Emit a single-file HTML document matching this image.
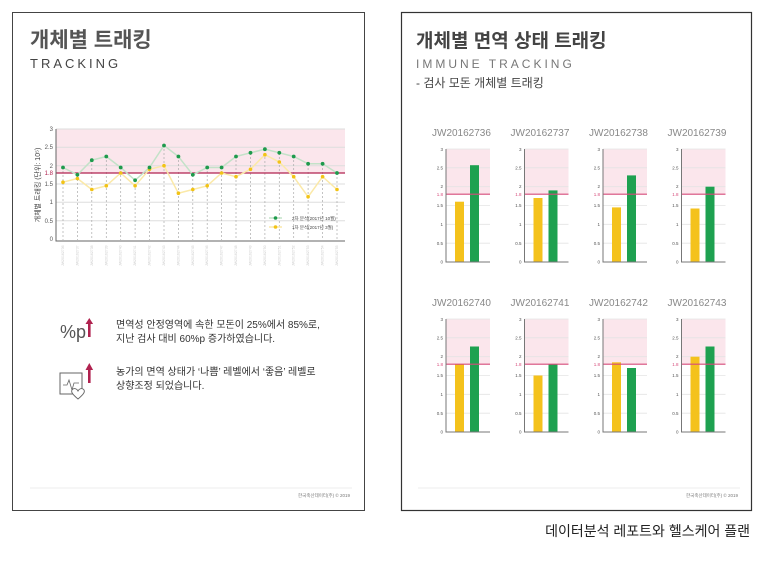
<!DOCTYPE html>
<html><head><meta charset="utf-8"><style>
body{margin:0;background:#fff;width:779px;height:559px;overflow:hidden;font-family:"Liberation Sans","Noto Sans CJK KR",sans-serif}
</style></head><body>
<svg width="779" height="559" viewBox="0 0 779 559" xmlns="http://www.w3.org/2000/svg" font-family="Liberation Sans, Noto Sans CJK KR, sans-serif">
<rect x="12.5" y="12.5" width="352" height="498" fill="#fff" stroke="#444" stroke-width="1"/>
<rect x="401.5" y="12.5" width="350" height="498" fill="#fff" stroke="#333" stroke-width="1.2"/>
<text x="30" y="47" font-size="21" font-weight="bold" fill="#555">개체별 트래킹</text>
<text x="30" y="68" font-size="13" fill="#444" letter-spacing="3">TRACKING</text>
<text x="416" y="47" font-size="19" font-weight="bold" fill="#444">개체별 면역 상태 트래킹</text>
<text x="416" y="68" font-size="12" fill="#777" letter-spacing="3">IMMUNE TRACKING</text>
<text x="416" y="87" font-size="12" fill="#444">- 검사 모돈 개체별 트래킹</text>

<!-- main chart -->
<rect x="56" y="129" width="289" height="44" fill="#fbe6ec"/>
<g stroke="#ddd" stroke-width="1"><line x1="56" x2="345" y1="129" y2="129"/><line x1="56" x2="345" y1="147.3" y2="147.3"/><line x1="56" x2="345" y1="165.7" y2="165.7"/><line x1="56" x2="345" y1="184" y2="184"/><line x1="56" x2="345" y1="202.3" y2="202.3"/><line x1="56" x2="345" y1="220.7" y2="220.7"/></g>
<g stroke="#aaa" stroke-dasharray="2,2" stroke-width="0.7">
<line x1="63" x2="63" y1="167" y2="240"/><line x1="77.4" x2="77.4" y1="175" y2="240"/><line x1="91.8" x2="91.8" y1="160" y2="240"/><line x1="106.3" x2="106.3" y1="156" y2="240"/><line x1="120.7" x2="120.7" y1="167" y2="240"/><line x1="135.1" x2="135.1" y1="180" y2="240"/><line x1="149.5" x2="149.5" y1="167" y2="240"/><line x1="164" x2="164" y1="145" y2="240"/><line x1="178.4" x2="178.4" y1="156" y2="240"/><line x1="192.8" x2="192.8" y1="175" y2="240"/><line x1="207.2" x2="207.2" y1="167" y2="240"/><line x1="221.6" x2="221.6" y1="167" y2="240"/><line x1="236" x2="236" y1="156" y2="240"/><line x1="250.5" x2="250.5" y1="153" y2="240"/><line x1="264.9" x2="264.9" y1="149" y2="240"/><line x1="279.3" x2="279.3" y1="153" y2="240"/><line x1="293.7" x2="293.7" y1="156" y2="240"/><line x1="308.1" x2="308.1" y1="164" y2="240"/><line x1="322.6" x2="322.6" y1="164" y2="240"/><line x1="337" x2="337" y1="173" y2="240"/></g>
<line x1="56" x2="345" y1="173" y2="173" stroke="#b0224f" stroke-width="1.3"/>
<polyline fill="none" stroke="#fbe9a8" stroke-width="1.5" points="63,182.2 77.4,178.5 91.8,189.5 106.3,185.8 120.7,173 135.1,185.8 149.5,169.3 164,165.7 178.4,193.2 192.8,189.5 207.2,185.8 221.6,173 236,176.7 250.5,169.3 264.9,154.7 279.3,162 293.7,176.7 308.1,196.8 322.6,176.7 337,189.5"/>
<polyline fill="none" stroke="#c3e2c8" stroke-width="1.5" points="63,167.5 77.4,174.8 91.8,160.2 106.3,156.5 120.7,167.5 135.1,180.3 149.5,167.5 164,145.5 178.4,156.5 192.8,174.8 207.2,167.5 221.6,167.5 236,156.5 250.5,152.8 264.9,149.2 279.3,152.8 293.7,156.5 308.1,163.8 322.6,163.8 337,173"/>
<g fill="#f2c316"><circle cx="63" cy="182.2" r="1.8"/><circle cx="77.4" cy="178.5" r="1.8"/><circle cx="91.8" cy="189.5" r="1.8"/><circle cx="106.3" cy="185.8" r="1.8"/><circle cx="120.7" cy="173" r="1.8"/><circle cx="135.1" cy="185.8" r="1.8"/><circle cx="149.5" cy="169.3" r="1.8"/><circle cx="164" cy="165.7" r="1.8"/><circle cx="178.4" cy="193.2" r="1.8"/><circle cx="192.8" cy="189.5" r="1.8"/><circle cx="207.2" cy="185.8" r="1.8"/><circle cx="221.6" cy="173" r="1.8"/><circle cx="236" cy="176.7" r="1.8"/><circle cx="250.5" cy="169.3" r="1.8"/><circle cx="264.9" cy="154.7" r="1.8"/><circle cx="279.3" cy="162" r="1.8"/><circle cx="293.7" cy="176.7" r="1.8"/><circle cx="308.1" cy="196.8" r="1.8"/><circle cx="322.6" cy="176.7" r="1.8"/><circle cx="337" cy="189.5" r="1.8"/></g>
<g fill="#1e9a4c"><circle cx="63" cy="167.5" r="1.9"/><circle cx="77.4" cy="174.8" r="1.9"/><circle cx="91.8" cy="160.2" r="1.9"/><circle cx="106.3" cy="156.5" r="1.9"/><circle cx="120.7" cy="167.5" r="1.9"/><circle cx="135.1" cy="180.3" r="1.9"/><circle cx="149.5" cy="167.5" r="1.9"/><circle cx="164" cy="145.5" r="1.9"/><circle cx="178.4" cy="156.5" r="1.9"/><circle cx="192.8" cy="174.8" r="1.9"/><circle cx="207.2" cy="167.5" r="1.9"/><circle cx="221.6" cy="167.5" r="1.9"/><circle cx="236" cy="156.5" r="1.9"/><circle cx="250.5" cy="152.8" r="1.9"/><circle cx="264.9" cy="149.2" r="1.9"/><circle cx="279.3" cy="152.8" r="1.9"/><circle cx="293.7" cy="156.5" r="1.9"/><circle cx="308.1" cy="163.8" r="1.9"/><circle cx="322.6" cy="163.8" r="1.9"/><circle cx="337" cy="173" r="1.9"/></g>
<polyline fill="none" stroke="#666" stroke-width="1" points="56,129 56,241 345,241"/>
<g font-size="6" fill="#555" text-anchor="end"><text x="53" y="131">3</text><text x="53" y="149">2.5</text><text x="53" y="168">2</text><text x="53" y="186">1.5</text><text x="53" y="204">1</text><text x="53" y="223">0.5</text><text x="53" y="241">0</text></g>
<text x="53" y="175" font-size="6" fill="#b0224f" text-anchor="end">1.8</text>
<text transform="translate(40,185) rotate(-90)" font-size="7" fill="#444" text-anchor="middle">개체별 트래킹 (단위: 10⁵)</text>
<g font-size="3.5" fill="#ccc"><text transform="translate(64,266) rotate(-90)">JW20162736</text><text transform="translate(78.4,266) rotate(-90)">JW20162737</text><text transform="translate(92.8,266) rotate(-90)">JW20162738</text><text transform="translate(107.3,266) rotate(-90)">JW20162739</text><text transform="translate(121.7,266) rotate(-90)">JW20162740</text><text transform="translate(136.1,266) rotate(-90)">JW20162741</text><text transform="translate(150.5,266) rotate(-90)">JW20162742</text><text transform="translate(165,266) rotate(-90)">JW20162743</text><text transform="translate(179.4,266) rotate(-90)">JW20162744</text><text transform="translate(193.8,266) rotate(-90)">JW20162745</text><text transform="translate(208.2,266) rotate(-90)">JW20162746</text><text transform="translate(222.6,266) rotate(-90)">JW20162747</text><text transform="translate(237,266) rotate(-90)">JW20162748</text><text transform="translate(251.5,266) rotate(-90)">JW20162749</text><text transform="translate(265.9,266) rotate(-90)">JW20162750</text><text transform="translate(280.3,266) rotate(-90)">JW20162751</text><text transform="translate(294.7,266) rotate(-90)">JW20162752</text><text transform="translate(309.1,266) rotate(-90)">JW20162753</text><text transform="translate(323.6,266) rotate(-90)">JW20162754</text><text transform="translate(338,266) rotate(-90)">JW20162755</text></g>
<line x1="269" x2="282" y1="218" y2="218" stroke="#c3e2c8" stroke-width="1.5"/><circle cx="275.5" cy="218" r="1.8" fill="#1e9a4c"/>
<line x1="269" x2="282" y1="227" y2="227" stroke="#fbe9a8" stroke-width="1.5"/><circle cx="275.5" cy="227" r="1.8" fill="#f2c316"/>
<text x="292" y="220" font-size="4.5" fill="#444">2차 분석(2017년 10월)</text>
<text x="292" y="229" font-size="4.5" fill="#444">1차 분석(2017년 3월)</text>

<!-- info -->
<text x="60" y="338" font-size="18" fill="#555">%p</text>
<rect x="88" y="323" width="2.6" height="14" fill="#b0224f"/><path d="M85.5,324 L89.3,318 L93.1,324Z" fill="#b0224f"/>
<text x="116" y="328" font-size="10" fill="#333">면역성 안정영역에 속한 모돈이 25%에서 85%로,</text>
<text x="116" y="342" font-size="10" fill="#333">지난 검사 대비 60%p 증가하였습니다.</text>
<rect x="60" y="373" width="22" height="21" fill="none" stroke="#666" stroke-width="1"/>
<polyline points="63,385 67,385 69,380 72,390 74,383 79,383" fill="none" stroke="#666" stroke-width="0.8"/>
<path d="M78,399 C72,394 70,391 73,389 C75,388 77,389 78,391 C79,389 81,388 83,389 C86,391 84,394 78,399Z" fill="#fff" stroke="#666" stroke-width="0.9"/>
<rect x="88" y="369" width="2.6" height="14" fill="#b0224f"/><path d="M85.5,370 L89.3,363 L93.1,370Z" fill="#b0224f"/>
<text x="116" y="375" font-size="10" fill="#333">농가의 면역 상태가 ‘나쁨’ 레벨에서 ‘좋음’ 레벨로</text>
<text x="116" y="389" font-size="10" fill="#333">상향조정 되었습니다.</text>

<line x1="30" x2="352" y1="488" y2="488" stroke="#eee"/>
<text x="350" y="497" font-size="4.5" fill="#777" text-anchor="end">한국축산데이터(주) © 2019</text>
<line x1="418" x2="740" y1="488" y2="488" stroke="#eee"/>
<text x="738" y="497" font-size="4.5" fill="#777" text-anchor="end">한국축산데이터(주) © 2019</text>
<text x="750" y="536" font-size="14" fill="#222" text-anchor="end">데이터분석 레포트와 헬스케어 플랜</text>

<!-- small charts -->
<defs><g id="fr">
<rect x="0" y="0" width="44" height="45.2" fill="#fbe6ec"/>
<g stroke="#e4e4e4" stroke-width="0.8"><line x1="0" x2="44" y1="0" y2="0"/><line x1="0" x2="44" y1="18.8" y2="18.8"/><line x1="0" x2="44" y1="37.7" y2="37.7"/><line x1="0" x2="44" y1="56.5" y2="56.5"/><line x1="0" x2="44" y1="75.3" y2="75.3"/><line x1="0" x2="44" y1="94.2" y2="94.2"/></g>
</g><g id="ax"><line x1="0" x2="44" y1="45.2" y2="45.2" stroke="#d64a7a" stroke-width="1.2"/><polyline points="0,0 0,113 44,113" fill="none" stroke="#777" stroke-width="1"/></g></defs>

<g transform="translate(446,149)"><use href="#fr"/><rect x="9" y="52.7" width="9" height="60.3" fill="#f4c21c"/><rect x="24" y="16.2" width="9" height="96.8" fill="#1ea150"/><use href="#ax"/>
<text x="-14" y="-13" font-size="10" fill="#888">JW20162736</text>
<g font-size="4.5" fill="#555" text-anchor="end"><text x="-3" y="2">3</text><text x="-3" y="20.5">2.5</text><text x="-3" y="39">2</text><text x="-3" y="58">1.5</text><text x="-3" y="77">1</text><text x="-3" y="96">0.5</text><text x="-3" y="114.5">0</text><text x="-3" y="47" fill="#d64a7a">1.8</text></g></g>
<g transform="translate(524.5,149)"><use href="#fr"/><rect x="9" y="49" width="9" height="64" fill="#f4c21c"/><rect x="24" y="41.4" width="9" height="71.6" fill="#1ea150"/><use href="#ax"/>
<text x="-14" y="-13" font-size="10" fill="#888">JW20162737</text>
<g font-size="4.5" fill="#555" text-anchor="end"><text x="-3" y="2">3</text><text x="-3" y="20.5">2.5</text><text x="-3" y="39">2</text><text x="-3" y="58">1.5</text><text x="-3" y="77">1</text><text x="-3" y="96">0.5</text><text x="-3" y="114.5">0</text><text x="-3" y="47" fill="#d64a7a">1.8</text></g></g>
<g transform="translate(603,149)"><use href="#fr"/><rect x="9" y="58.4" width="9" height="54.6" fill="#f4c21c"/><rect x="24" y="26.4" width="9" height="86.6" fill="#1ea150"/><use href="#ax"/>
<text x="-14" y="-13" font-size="10" fill="#888">JW20162738</text>
<g font-size="4.5" fill="#555" text-anchor="end"><text x="-3" y="2">3</text><text x="-3" y="20.5">2.5</text><text x="-3" y="39">2</text><text x="-3" y="58">1.5</text><text x="-3" y="77">1</text><text x="-3" y="96">0.5</text><text x="-3" y="114.5">0</text><text x="-3" y="47" fill="#d64a7a">1.8</text></g></g>
<g transform="translate(681.5,149)"><use href="#fr"/><rect x="9" y="59.5" width="9" height="53.5" fill="#f4c21c"/><rect x="24" y="37.7" width="9" height="75.3" fill="#1ea150"/><use href="#ax"/>
<text x="-14" y="-13" font-size="10" fill="#888">JW20162739</text>
<g font-size="4.5" fill="#555" text-anchor="end"><text x="-3" y="2">3</text><text x="-3" y="20.5">2.5</text><text x="-3" y="39">2</text><text x="-3" y="58">1.5</text><text x="-3" y="77">1</text><text x="-3" y="96">0.5</text><text x="-3" y="114.5">0</text><text x="-3" y="47" fill="#d64a7a">1.8</text></g></g>

<g transform="translate(446,319)"><use href="#fr"/><rect x="9" y="45.2" width="9" height="67.8" fill="#f4c21c"/><rect x="24" y="27.5" width="9" height="85.5" fill="#1ea150"/><use href="#ax"/>
<text x="-14" y="-13" font-size="10" fill="#888">JW20162740</text>
<g font-size="4.5" fill="#555" text-anchor="end"><text x="-3" y="2">3</text><text x="-3" y="20.5">2.5</text><text x="-3" y="39">2</text><text x="-3" y="58">1.5</text><text x="-3" y="77">1</text><text x="-3" y="96">0.5</text><text x="-3" y="114.5">0</text><text x="-3" y="47" fill="#d64a7a">1.8</text></g></g>
<g transform="translate(524.5,319)"><use href="#fr"/><rect x="9" y="56.5" width="9" height="56.5" fill="#f4c21c"/><rect x="24" y="45.2" width="9" height="67.8" fill="#1ea150"/><use href="#ax"/>
<text x="-14" y="-13" font-size="10" fill="#888">JW20162741</text>
<g font-size="4.5" fill="#555" text-anchor="end"><text x="-3" y="2">3</text><text x="-3" y="20.5">2.5</text><text x="-3" y="39">2</text><text x="-3" y="58">1.5</text><text x="-3" y="77">1</text><text x="-3" y="96">0.5</text><text x="-3" y="114.5">0</text><text x="-3" y="47" fill="#d64a7a">1.8</text></g></g>
<g transform="translate(603,319)"><use href="#fr"/><rect x="9" y="43.3" width="9" height="69.7" fill="#f4c21c"/><rect x="24" y="49" width="9" height="64" fill="#1ea150"/><use href="#ax"/>
<text x="-14" y="-13" font-size="10" fill="#888">JW20162742</text>
<g font-size="4.5" fill="#555" text-anchor="end"><text x="-3" y="2">3</text><text x="-3" y="20.5">2.5</text><text x="-3" y="39">2</text><text x="-3" y="58">1.5</text><text x="-3" y="77">1</text><text x="-3" y="96">0.5</text><text x="-3" y="114.5">0</text><text x="-3" y="47" fill="#d64a7a">1.8</text></g></g>
<g transform="translate(681.5,319)"><use href="#fr"/><rect x="9" y="37.7" width="9" height="75.3" fill="#f4c21c"/><rect x="24" y="27.5" width="9" height="85.5" fill="#1ea150"/><use href="#ax"/>
<text x="-14" y="-13" font-size="10" fill="#888">JW20162743</text>
<g font-size="4.5" fill="#555" text-anchor="end"><text x="-3" y="2">3</text><text x="-3" y="20.5">2.5</text><text x="-3" y="39">2</text><text x="-3" y="58">1.5</text><text x="-3" y="77">1</text><text x="-3" y="96">0.5</text><text x="-3" y="114.5">0</text><text x="-3" y="47" fill="#d64a7a">1.8</text></g></g>
</svg>
</body></html>
